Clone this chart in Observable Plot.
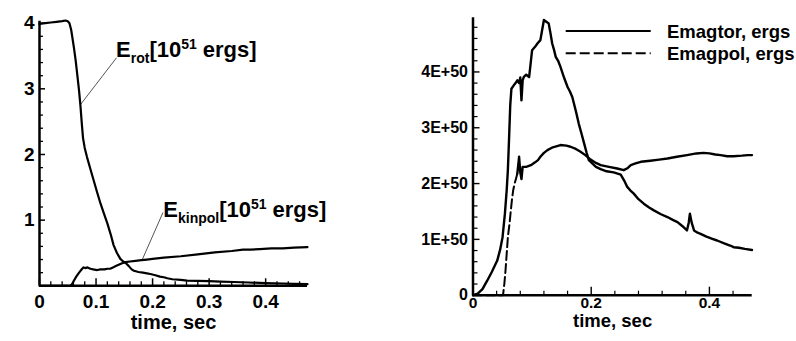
<!DOCTYPE html>
<html><head><meta charset="utf-8">
<script src="https://cdn.jsdelivr.net/npm/d3@7"></script>
<script src="https://cdn.jsdelivr.net/npm/@observablehq/plot@0.6"></script>
<style>
body{margin:0;background:#fff;}
#wrap{display:flex;width:796px;height:341px;}
svg{display:block}
</style></head><body><div id="wrap"></div>
<script>
// ---------- DATA (left panel, 10^51 ergs vs time in s) ----------
const erot = [[0,3.99],[0.01,4.0],[0.02,4.01],[0.03,4.02],[0.04,4.03],[0.046,4.04],[0.05,4.03],[0.053,4.0],[0.056,3.9],[0.058,3.79],[0.061,3.62],[0.064,3.43],[0.067,3.2],[0.07,2.97],[0.0726,2.72],[0.075,2.45],[0.077,2.25],[0.08,2.1],[0.084,1.96],[0.09,1.78],[0.096,1.6],[0.102,1.42],[0.108,1.25],[0.114,1.1],[0.12,0.95],[0.126,0.78],[0.131,0.62],[0.137,0.5],[0.143,0.41],[0.148,0.37],[0.152,0.35],[0.158,0.3],[0.163,0.25],[0.167,0.23],[0.175,0.21],[0.183,0.2],[0.19,0.19],[0.196,0.18],[0.205,0.16],[0.213,0.14],[0.22,0.13],[0.226,0.115],[0.235,0.1],[0.25,0.09],[0.261,0.08],[0.28,0.075],[0.3,0.07],[0.32,0.065],[0.344,0.058],[0.37,0.05],[0.4,0.04],[0.43,0.035],[0.45,0.03],[0.474,0.025]];
const ekinpol = [[0,0],[0.055,0],[0.058,0.03],[0.061,0.08],[0.065,0.14],[0.07,0.2],[0.0755,0.26],[0.078,0.28],[0.081,0.27],[0.085,0.28],[0.09,0.26],[0.095,0.25],[0.102,0.24],[0.108,0.25],[0.115,0.25],[0.12,0.26],[0.125,0.26],[0.13,0.28],[0.135,0.3],[0.14,0.32],[0.145,0.34],[0.152,0.36],[0.16,0.37],[0.17,0.38],[0.18,0.39],[0.19,0.40],[0.2,0.41],[0.22,0.43],[0.25,0.45],[0.28,0.48],[0.31,0.51],[0.34,0.53],[0.36,0.55],[0.373,0.55],[0.39,0.56],[0.41,0.57],[0.43,0.57],[0.45,0.58],[0.474,0.59]];
const leftXTicks = [0,0.1,0.2,0.3,0.4];
const leftXMinor = [0.02,0.04,0.06,0.08,0.12,0.14,0.16,0.18,0.22,0.24,0.26,0.28,0.32,0.34,0.36,0.38,0.42,0.44,0.46];
const leftYTicks = [1,2,3,4];
const leftYMinor = [0.2,0.4,0.6,0.8,1.2,1.4,1.6,1.8,2.2,2.4,2.6,2.8,3.2,3.4,3.6,3.8];

// ---------- DATA (right panel, units of 1E+50 ergs vs time in s) ----------
const emagtor = [[0,0],[0.008,0.03],[0.016,0.11],[0.024,0.26],[0.032,0.42],[0.041,0.62],[0.046,0.82],[0.05,1.04],[0.052,1.25],[0.054,1.46],[0.057,1.88],[0.059,2.24],[0.061,2.8],[0.063,3.4],[0.065,3.7],[0.069,3.76],[0.072,3.8],[0.075,3.85],[0.078,3.8],[0.08,3.9],[0.082,3.49],[0.084,3.85],[0.086,3.91],[0.09,3.95],[0.095,3.91],[0.098,4.2],[0.1,4.39],[0.105,4.45],[0.109,4.51],[0.114,4.57],[0.117,4.75],[0.12,4.93],[0.124,4.9],[0.128,4.87],[0.131,4.7],[0.134,4.51],[0.137,4.4],[0.14,4.27],[0.144,4.2],[0.148,4.09],[0.154,3.9],[0.16,3.73],[0.164,3.65],[0.168,3.55],[0.174,3.3],[0.179,3.07],[0.184,2.88],[0.188,2.72],[0.192,2.56],[0.196,2.42],[0.2,2.38],[0.208,2.3],[0.216,2.26],[0.226,2.22],[0.238,2.2],[0.25,2.16],[0.256,2.05],[0.261,1.94],[0.266,1.88],[0.272,1.82],[0.28,1.72],[0.289,1.64],[0.298,1.57],[0.306,1.52],[0.318,1.45],[0.329,1.4],[0.338,1.35],[0.346,1.31],[0.354,1.24],[0.362,1.16],[0.365,1.3],[0.367,1.46],[0.37,1.3],[0.374,1.16],[0.38,1.12],[0.385,1.10],[0.395,1.05],[0.405,1.01],[0.413,0.98],[0.425,0.93],[0.435,0.89],[0.441,0.86],[0.45,0.85],[0.46,0.83],[0.472,0.81]];
const emagpol = [[0,0],[0.05,0],[0.051,0.02],[0.053,0.2],[0.055,0.44],[0.057,0.74],[0.059,1.04],[0.062,1.3],[0.064,1.52],[0.066,1.72],[0.068,1.88],[0.07,1.98],[0.072,2.06],[0.075,2.18],[0.078,2.48],[0.08,2.2],[0.082,2.08],[0.084,2.3],[0.09,2.3],[0.098,2.33],[0.105,2.38],[0.11,2.42],[0.114,2.48],[0.12,2.55],[0.126,2.6],[0.135,2.65],[0.148,2.69],[0.158,2.68],[0.165,2.66],[0.174,2.62],[0.182,2.57],[0.19,2.51],[0.199,2.43],[0.208,2.37],[0.216,2.33],[0.23,2.3],[0.244,2.27],[0.255,2.24],[0.262,2.28],[0.267,2.33],[0.275,2.36],[0.284,2.39],[0.3,2.41],[0.315,2.43],[0.329,2.45],[0.345,2.48],[0.362,2.51],[0.378,2.54],[0.39,2.55],[0.4,2.54],[0.41,2.52],[0.419,2.51],[0.43,2.49],[0.441,2.49],[0.455,2.5],[0.465,2.51],[0.472,2.51]];
const rightXTicks = [0,0.2,0.4];
const rightXMinor = [0.04,0.08,0.12,0.16,0.24,0.28,0.32,0.36,0.44];
const rightYTicks = [0,1,2,3,4];
const rightYMinor = [0.2,0.4,0.6,0.8,1.2,1.4,1.6,1.8,2.2,2.4,2.6,2.8,3.2,3.4,3.6,3.8,4.2,4.4,4.6,4.8];
const legendLabels = ["Emagtor, ergs","Emagpol, ergs"];
const xLabel = "time, sec";

// ---------- LAYOUT ----------
const FONT = '"Liberation Sans", Arial, Helvetica, sans-serif';
const wrap = document.getElementById("wrap");

const L = {w:400,h:341,ml:39,mr:93,mt:20.7,mb:55.7};
const LW = L.w-L.ml-L.mr, LH = L.h-L.mt-L.mb;
const leftLeaders = [
  {x1:0.1362,y1:3.473,x2:0.0725,y2:2.76},
  {x1:0.2184,y1:1.116,x2:0.1816,y2:0.396}
];
const left = Plot.plot({
  width:L.w,height:L.h,marginLeft:L.ml,marginRight:L.mr,marginTop:L.mt,marginBottom:L.mb,
  style:{fontFamily:FONT,background:"#fff",color:"#000",overflow:"visible"},
  x:{domain:[0,0.474],axis:null},
  y:{domain:[0,4.03],axis:null},
  marks:[
    Plot.tickX(leftXMinor,{x:d=>d,insetTop:LH-4,strokeWidth:1.3}),
    Plot.tickX(leftXTicks,{x:d=>d,insetTop:LH-7,strokeWidth:1.5}),
    Plot.tickY(leftYMinor,{y:d=>d,insetRight:LW-4,strokeWidth:1.3}),
    Plot.tickY(leftYTicks,{y:d=>d,insetRight:LW-6,strokeWidth:1.5}),
    Plot.ruleX([0],{strokeWidth:2.5}),
    Plot.ruleY([0],{strokeWidth:2.5}),
    Plot.text(leftXTicks,{x:d=>d,frameAnchor:"bottom",lineAnchor:"top",dy:9,text:d=>d===0?"0":String(d),fontSize:19,fontWeight:"bold"}),
    Plot.text(leftYTicks,{y:d=>d,frameAnchor:"left",textAnchor:"end",lineAnchor:"middle",dx:-5,text:d=>String(d),fontSize:19,fontWeight:"bold"}),
    Plot.text([xLabel],{frameAnchor:"bottom",lineAnchor:"top",dy:29,fontSize:20,fontWeight:"bold"}),
    Plot.link(leftLeaders,{x1:"x1",y1:"y1",x2:"x2",y2:"y2",stroke:"#555",strokeWidth:1}),
    Plot.line(erot,{x:d=>d[0],y:d=>d[1],strokeWidth:2.2}),
    Plot.line(ekinpol,{x:d=>d[0],y:d=>d[1],strokeWidth:2.2})
  ]
});
wrap.appendChild(left);

// subscript/superscript annotations
function label(svg, sx, sy, xv, yv, main, sub){
  const t = d3.select(svg).append("text")
    .attr("x", sx.apply(xv)).attr("y", sy.apply(yv)).attr("text-anchor","start")
    .attr("font-family",FONT).attr("font-weight","bold").attr("font-size",22).attr("fill","#000");
  t.append("tspan").text(main);
  t.append("tspan").attr("font-size",14).attr("dy",6).text(sub);
  t.append("tspan").attr("dy",-6).text("[10");
  t.append("tspan").attr("font-size",14).attr("dy",-8).text("51");
  t.append("tspan").attr("dy",8).attr("dx",6).text("ergs]");
}
const lsx = left.scale("x"), lsy = left.scale("y");
label(left, lsx, lsy, 0.1363, 3.477, "E", "rot");
label(left, lsx, lsy, 0.2198, 1.045, "E", "kinpol");

const R = {w:396,h:341,ml:72.5,mr:44.3,mt:17.3,mb:46.3};
const RW = R.w-R.ml-R.mr, RH = R.h-R.mt-R.mb;
const right = Plot.plot({
  width:R.w,height:R.h,marginLeft:R.ml,marginRight:R.mr,marginTop:R.mt,marginBottom:R.mb,
  style:{fontFamily:FONT,background:"#fff",color:"#000",overflow:"visible"},
  x:{domain:[0,0.4724],axis:null},
  y:{domain:[0,4.97],axis:null},
  marks:[
    Plot.tickX(rightXMinor,{x:d=>d,insetTop:RH-4,strokeWidth:1.2}),
    Plot.tickX(rightXTicks,{x:d=>d,insetTop:RH-8,strokeWidth:1.4}),
    Plot.tickY(rightYMinor,{y:d=>d,insetRight:RW-5,strokeWidth:1.2}),
    Plot.tickY(rightYTicks,{y:d=>d,insetRight:RW-7,strokeWidth:1.4}),
    Plot.ruleX([0],{strokeWidth:2.5}),
    Plot.ruleY([0],{strokeWidth:2.5}),
    Plot.text(rightXTicks,{x:d=>d,frameAnchor:"bottom",lineAnchor:"top",dy:2,text:d=>d===0?"0":String(d),fontSize:15.5,fontWeight:"bold"}),
    Plot.text(rightYTicks,{y:d=>d,frameAnchor:"left",textAnchor:"end",lineAnchor:"middle",dx:-5,text:d=>d===0?"0":d+"E+50",fontSize:16,fontWeight:"bold"}),
    Plot.text([xLabel],{frameAnchor:"bottom",lineAnchor:"top",dy:19,fontSize:18.5,fontWeight:"bold"}),
    Plot.line(emagpol.filter(d=>d[0]<=0.075),{x:d=>d[0],y:d=>d[1],strokeWidth:2,strokeDasharray:"9,4"}),
    Plot.line(emagpol.filter(d=>d[0]>=0.075),{x:d=>d[0],y:d=>d[1],strokeWidth:2.4}),
    Plot.line(emagtor,{x:d=>d[0],y:d=>d[1],strokeWidth:2.4})
  ]
});
wrap.appendChild(right);

// legend (top right)
const lg = d3.select(right).append("g").attr("font-family",FONT).attr("font-weight","bold").attr("font-size",18.5).attr("text-anchor","start");
[[31,null],[53.3,"10,4"]].forEach(([y,dash],i)=>{
  const ln = lg.append("line").attr("x1",165.7).attr("x2",250.7).attr("y1",y).attr("y2",y)
    .attr("stroke","#000").attr("stroke-width",2);
  if (dash) ln.attr("stroke-dasharray",dash);
  lg.append("text").attr("x",267).attr("y",y+6.5).attr("fill","#000").text(legendLabels[i]);
});
</script></body></html>
